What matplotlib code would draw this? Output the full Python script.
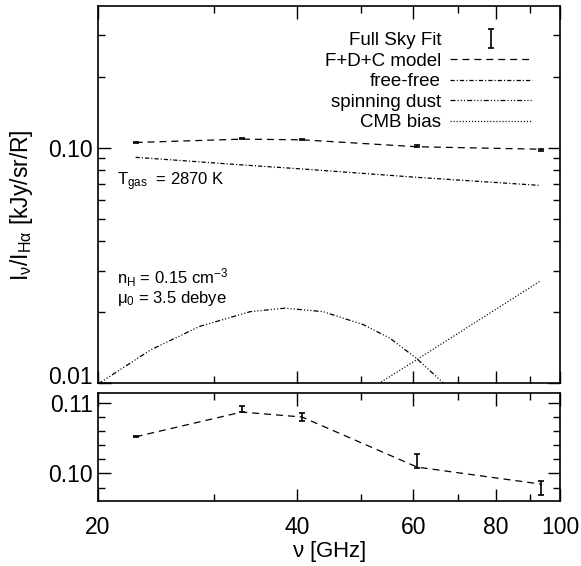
import numpy as np
import matplotlib
matplotlib.use("Agg")
import matplotlib.pyplot as plt
import matplotlib.transforms as mtransforms
from matplotlib.ticker import FixedLocator, FixedFormatter, MultipleLocator, NullFormatter, FormatStrFormatter

plt.rcParams['font.family'] = ['Liberation Sans', 'DejaVu Sans']
plt.rcParams['mathtext.fontset'] = 'custom'
plt.rcParams['mathtext.rm'] = 'Liberation Sans'
plt.rcParams['mathtext.it'] = 'Liberation Sans'
plt.rcParams['lines.scale_dashes'] = False

# dados
freq = [22.8, 33.0, 40.7, 60.8, 93.5]            # GHz
fit = [0.1052, 0.1091, 0.1080, 0.1018, 0.0980]   # Full Sky Fit
fit_err = [0.0001, 0.0004, 0.0005, 0.0010, 0.0010]
modelo = [0.1052, 0.1087, 0.1080, 0.1009, 0.0985]  # F+D+C model
freefree = [0.0910, 0.0845, 0.0812, 0.0748, 0.0691]
cmb = [0.0021, 0.0041, 0.0062, 0.0126, 0.0272]

freq_spin = [20.0, 24.0, 28.5, 34.0, 38.4, 43.8, 50.4, 55.3, 60.7, 66.6, 72.0]
spin = [0.0099, 0.0138, 0.0174, 0.0201, 0.0208, 0.0201, 0.0177, 0.0155, 0.0127, 0.0100, 0.0078]

W, H = 581, 566
fig = plt.figure(figsize=(W/100, H/100), dpi=100)
ax1 = fig.add_axes([98/W, 1-383/H, 462/W, 377/H])
ax2 = fig.add_axes([98/W, 1-501/H, 462/W, 108/H])

lw = 0.9
tracejado = (0, (5.0, 3.6))
traco_ponto = (0, (3.0, 1.5, 0.8, 1.5))
traco_3pontos = (0, (3.6, 1.5, 0.8, 1.5, 0.8, 1.5, 0.8, 1.5))
pontilhado = (0, (0.8, 1.4))

eb = ax1.errorbar(freq, fit, yerr=fit_err, fmt='none', ecolor='black', elinewidth=1.2,
                  capsize=2.5, capthick=1.2, label='Full Sky Fit')
l1, = ax1.plot(freq, modelo, color='black', lw=lw, linestyle=tracejado, label='F+D+C model')
l2, = ax1.plot(freq, freefree, color='black', lw=lw, linestyle=traco_ponto, label='free-free')
l3, = ax1.plot(freq_spin, spin, color='black', lw=lw, linestyle=traco_3pontos, label='spinning dust')
l4, = ax1.plot(freq, cmb, color='black', lw=lw, linestyle=pontilhado, label='CMB bias')

ax1.set_xscale('log')
ax1.set_yscale('log')
ax1.set_xlim(20, 100)
ax1.set_ylim(0.01, 0.4)

ax2.errorbar(freq, fit, yerr=fit_err, fmt='none', ecolor='black', elinewidth=1.2,
             capsize=2.5, capthick=1.2)
ax2.plot(freq, modelo, color='black', lw=lw, linestyle=tracejado)
ax2.set_xscale('log')
ax2.set_xlim(20, 100)
ax2.set_ylim(0.0961, 0.1114)

for ax in (ax1, ax2):
    for s in ax.spines.values():
        s.set_linewidth(1.2)
    ax.xaxis.set_major_locator(FixedLocator([20, 40, 60, 80, 100]))
    ax.xaxis.set_minor_locator(FixedLocator([30, 50, 70, 90]))
    ax.xaxis.set_minor_formatter(NullFormatter())
    ax.tick_params(which='both', direction='in', top=True, right=True, labelsize=16.5)
    ax.tick_params(which='major', length=9, width=1.0)
    ax.tick_params(which='minor', length=5, width=1.0)

ax1.xaxis.set_major_formatter(NullFormatter())
ax1.yaxis.set_major_locator(FixedLocator([0.01, 0.1]))
ax1.yaxis.set_major_formatter(FixedFormatter(['0.01', '0.10']))
ax1.yaxis.set_minor_locator(FixedLocator([0.02, 0.03, 0.04, 0.05, 0.06, 0.07, 0.08, 0.09, 0.2, 0.3]))
ax1.yaxis.set_minor_formatter(NullFormatter())

ax2.xaxis.set_major_formatter(FixedFormatter(['20', '40', '60', '80', '100']))
ax2.yaxis.set_major_locator(FixedLocator([0.10, 0.11]))
ax2.yaxis.set_major_formatter(FormatStrFormatter('%.2f'))
ax2.yaxis.set_minor_locator(MultipleLocator(0.002))
ax2.tick_params(axis='x', pad=11)

# o rótulo 0.01 fica um pouco acima da linha do eixo
fig.canvas.draw()
desloc = mtransforms.ScaledTranslation(0, 6/72, fig.dpi_scale_trans)
rot = ax1.get_yticklabels()[0]
rot.set_transform(rot.get_transform() + desloc)

ax2.set_xlabel(r'$\nu$ [GHz]', fontsize=16, labelpad=0)
fig.text(22/W, 1-205/H, r'I$_\nu$/I$_{\rm H\alpha}$ [kJy/sr/R]', fontsize=16.5,
         rotation=90, ha='center', va='center')

ax1.text(117/W, 1-182/H, r'T$_{\rm gas}$  = 2870 K', transform=fig.transFigure,
         fontsize=12, va='center')
ax1.text(117/W, 1-278/H, r'n$_{\rm H}$ = 0.15 cm$^{-3}$', transform=fig.transFigure,
         fontsize=12, va='center')
ax1.text(117/W, 1-299/H, r'$\mu_0$ = 3.5 debye', transform=fig.transFigure,
         fontsize=12, va='center')

ax1.legend(handles=[eb, l1, l2, l3, l4], loc='upper right', bbox_to_anchor=(532/W, 1-32/H),
           bbox_transform=fig.transFigure, markerfirst=False, frameon=False, fontsize=13.5,
           handlelength=4.4, handletextpad=0.45, labelspacing=0.18, borderpad=0, borderaxespad=0)

fig.savefig('out.png', dpi=100)
